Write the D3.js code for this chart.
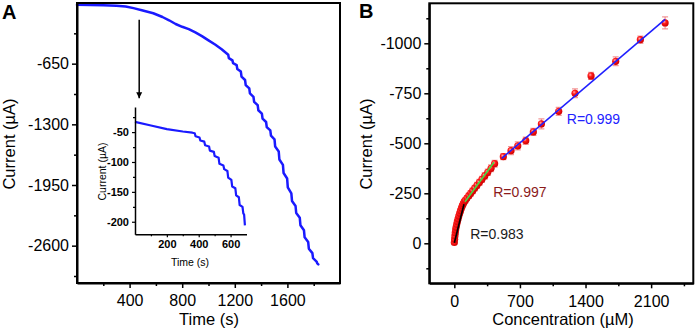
<!DOCTYPE html>
<html lang="en">
<head>
<meta charset="UTF-8" />
<title>Amperometric response and calibration</title>
<script src="https://d3js.org/d3.v7.min.js"></script>
<style>
  body { margin: 0; background: #fff; }
  svg { display: block; font-family: 'Liberation Sans', Arial, sans-serif; }
  .axis path, .axis line { stroke: #000; }
  .axis path { stroke-width: 2; }
  .axis line { stroke-width: 1.5; }
  .axis text { font-size: 16px; fill: #000; }
  .inset .axis path { stroke-width: 1.5; }
  .inset .axis line { stroke-width: 1.2; }
  .inset .axis text { font-size: 11px; font-weight: bold; }
</style>
</head>
<body>
<svg id="chart" width="699" height="333"></svg>
<script>
// ---- Panel A: current vs time (uA vs s)
const traceA = [
  [0,-20],[100,-22],[200,-25],[300,-30],[370,-38],[430,-55],[500,-80],[580,-110],[650,-150],
  [700,-185],[750,-225],[800,-255],[850,-280],[900,-315],[950,-355],[1000,-400],[1050,-445],
  [1100,-495],[1150,-555],[1155,-591],[1182,-615],[1187,-645],[1214,-665],[1219,-707],
  [1246,-735],[1251,-789],[1278,-825],[1283,-879],[1310,-915],[1315,-969],[1342,-1005],
  [1347,-1059],[1374,-1095],[1379,-1149],[1406,-1185],[1411,-1239],[1438,-1275],[1443,-1329],
  [1470,-1365],[1475,-1422],[1502,-1460],[1507,-1538],[1534,-1590],[1539,-1677],[1566,-1735],
  [1571,-1822],[1598,-1880],[1603,-1976],[1630,-2040],[1635,-2121],[1662,-2175],[1667,-2250],
  [1694,-2300],[1699,-2381],[1726,-2435],[1731,-2510],[1758,-2560],[1763,-2632],[1790,-2680],
  [1795,-2734],[1822,-2770],[1827,-2790],[1835,-2800]
];
const xTicksA = [400, 800, 1200, 1600];
const xMinorA = [200, 600, 1000, 1400, 1800];
const yTicksA = [-650, -1300, -1950, -2600];
const yMinorA = [-325, -975, -1625, -2275, -2925];

// inset of panel A (first 700 s)
const traceInset = [
  [0,-33],[100,-39],[200,-45],[300,-49],[360,-51],[375,-52],[380,-57],[405,-59],[410,-64],
  [435,-66],[440,-72],[465,-74],[470,-81],[495,-83],[500,-90],[525,-93],[530,-103],[555,-106],
  [560,-112],[580,-115],[585,-126],[605,-130],[610,-141],[630,-144],[635,-156],[652,-159],
  [657,-172],[675,-175],[680,-186],[685,-188],[690,-206]
];
const xTicksIn = [200, 400, 600];
const xMinorIn = [100, 300, 500];
const yTicksIn = [-50, -100, -150, -200];
const yMinorIn = [-25, -75, -125, -175];
const arrowA = { t: 473, from: -180, to: -1020 };

// ---- Panel B: calibration (uA vs uM)
const conc = [0,3,6,10,14,19,25,32,40,48,57,66,76,86,96,106,
  118,135,155,175,195,218,242,268,295,325,357,392,430,
  523,605,677,762,843,929,1114,1288,1459,1722,1985,2249];
const current = [-4,-20,-36,-52,-66,-80,-94,-108,-122,-136,-150,-163,-176,-188,-198,-208,
  -215,-226,-238,-250,-262,-276,-290,-305,-320,-337,-355,-375,-398,
  -433,-463,-487,-513,-557,-597,-660,-750,-837,-910,-1018,-1102];
const errorBar = [8,8,8,8,9,9,9,10,10,10,10,10,11,11,11,12,
  13,13,13,14,14,14,15,15,15,16,16,17,17,
  15,20,20,18,18,25,20,22,18,22,18,30];
const fits = [
  { label: "R=0.983", color: "#000000", text: "#1a1a1a", pts: [[0,-3],[103,-195]], at: [170, -20] },
  { label: "R=0.997", color: "#44dd44", text: "#8b1a1a", pts: [[114,-208],[424,-405]], at: [415, -230] },
  { label: "R=0.999", color: "#1f1fff", text: "#2222ff", pts: [[506,-425],[2249,-1120]], at: [1200, -595] }
];
const xTicksB = [0, 700, 1400, 2100];
const xMinorB = [350, 1050, 1750, 2450];
const yTicksB = [0, -250, -500, -750, -1000];
const yMinorB = [125, -125, -375, -625, -875, -1125];

const svg = d3.select("#chart");
const fmt = d => String(d);

const defs = svg.append("defs");
const grad = defs.append("radialGradient").attr("id", "ball").attr("cx", "38%").attr("cy", "35%").attr("r", "65%");
grad.append("stop").attr("offset", "0%").attr("stop-color", "#ffb0b0");
grad.append("stop").attr("offset", "40%").attr("stop-color", "#ff1a1a");
grad.append("stop").attr("offset", "100%").attr("stop-color", "#d00000");
defs.append("marker").attr("id", "arrow").attr("viewBox", "0 0 10 10")
  .attr("refX", 10).attr("refY", 5).attr("markerWidth", 4).attr("markerHeight", 5)
  .attr("markerUnits", "strokeWidth").attr("orient", "auto")
  .append("path").attr("d", "M0,0 L10,5 L0,10 Z").attr("fill", "#000");

function drawAxes(g, x, y, o) {
  const [x0, x1] = x.range(), [y0, y1] = y.range();
  g.append("g").attr("class", "axis").attr("transform", `translate(0,${y0})`)
    .call(d3.axisBottom(x).tickValues(o.xt).tickSize(o.major).tickSizeOuter(0).tickPadding(o.xpad).tickFormat(fmt));
  g.append("g").attr("class", "axis").attr("transform", `translate(0,${y0})`)
    .call(d3.axisBottom(x).tickValues(o.xm).tickSize(o.minor).tickFormat(""))
    .select(".domain").remove();
  g.append("g").attr("class", "axis").attr("transform", `translate(${x0},0)`)
    .call(d3.axisLeft(y).tickValues(o.yt).tickSize(o.major).tickSizeOuter(0).tickPadding(o.ypad).tickFormat(fmt));
  g.append("g").attr("class", "axis").attr("transform", `translate(${x0},0)`)
    .call(d3.axisLeft(y).tickValues(o.ym).tickSize(o.minor).tickFormat(""))
    .select(".domain").remove();
  if (o.frame) {
    g.append("rect").attr("x", x0).attr("y", y1).attr("width", x1 - x0).attr("height", y0 - y1)
      .attr("fill", "none").attr("stroke", "#000").attr("stroke-width", 2);
  }
}

// ---------- Panel A
const xA = d3.scaleLinear().domain([0, 2000]).range([77, 340]);
const yA = d3.scaleLinear().domain([-3000, 0]).range([283, 3]);
const gA = svg.append("g");

gA.append("path").datum(traceA)
  .attr("d", d3.line().x(d => xA(d[0])).y(d => yA(d[1])))
  .attr("fill", "none").attr("stroke", "#1a1aff").attr("stroke-width", 2.5)
  .attr("stroke-linejoin", "round").attr("stroke-linecap", "round");

drawAxes(gA, xA, yA, { xt: xTicksA, xm: xMinorA, yt: yTicksA, ym: yMinorA, major: 5, minor: 3, xpad: 7, ypad: 3, frame: true });

gA.append("line")
  .attr("x1", xA(arrowA.t)).attr("x2", xA(arrowA.t))
  .attr("y1", yA(arrowA.from)).attr("y2", yA(arrowA.to))
  .attr("stroke", "#000").attr("stroke-width", 1.5).attr("marker-end", "url(#arrow)");

gA.append("text").attr("x", 209).attr("y", 325).attr("text-anchor", "middle")
  .style("font-size", "16.5px").text("Time (s)");
gA.append("text").attr("transform", "translate(15,144) rotate(-90)").attr("text-anchor", "middle")
  .style("font-size", "16.5px").text("Current (\u00b5A)");
gA.append("text").attr("x", 2).attr("y", 19).style("font-size", "20px").style("font-weight", "bold").text("A");

// inset
const xIn = d3.scaleLinear().domain([0, 700]).range([135, 246.5]);
const yIn = d3.scaleLinear().domain([-221, -8]).range([234.3, 107]);
const gIn = svg.append("g").attr("class", "inset");
gIn.append("path").datum(traceInset)
  .attr("d", d3.line().x(d => xIn(d[0])).y(d => yIn(d[1])))
  .attr("fill", "none").attr("stroke", "#1a1aff").attr("stroke-width", 2.2)
  .attr("stroke-linejoin", "round");
drawAxes(gIn, xIn, yIn, { xt: xTicksIn, xm: xMinorIn, yt: yTicksIn, ym: yMinorIn, major: 3, minor: 2, xpad: 3, ypad: 3, frame: false });
gIn.append("text").attr("x", 190).attr("y", 265.5).attr("text-anchor", "middle")
  .style("font-size", "10.5px").text("Time (s)");
gIn.append("text").attr("transform", "translate(106,171.5) rotate(-90)").attr("text-anchor", "middle")
  .style("font-size", "10.5px").text("Current (\u00b5A)");

// ---------- Panel B
const xB = d3.scaleLinear().domain([-267, 2550]).range([429.3, 693.3]);
const yB = d3.scaleLinear().domain([200, -1200]).range([283.3, 3.3]);
const gB = svg.append("g");
const pts = conc.map((c, i) => ({ c, v: current[i], e: errorBar[i] }));

const eb = gB.append("g").attr("stroke", "#f08080").attr("stroke-width", 1);
pts.forEach(p => {
  eb.append("line").attr("x1", xB(p.c)).attr("x2", xB(p.c)).attr("y1", yB(p.v - p.e)).attr("y2", yB(p.v + p.e));
  eb.append("line").attr("x1", xB(p.c) - 3).attr("x2", xB(p.c) + 3).attr("y1", yB(p.v - p.e)).attr("y2", yB(p.v - p.e));
  eb.append("line").attr("x1", xB(p.c) - 3).attr("x2", xB(p.c) + 3).attr("y1", yB(p.v + p.e)).attr("y2", yB(p.v + p.e));
});

gB.selectAll("circle.pt").data(pts).join("circle").attr("class", "pt")
  .attr("cx", d => xB(d.c)).attr("cy", d => yB(d.v)).attr("r", 3.6)
  .attr("fill", "url(#ball)");

// fit lines drawn over the points
fits.forEach(f => {
  gB.append("path").datum(f.pts)
    .attr("d", d3.line().x(d => xB(d[0])).y(d => yB(d[1])))
    .attr("stroke", f.color).attr("stroke-width", 1.6).attr("fill", "none");
  gB.append("text").attr("x", xB(f.at[0])).attr("y", yB(f.at[1]))
    .style("font-size", "14px").attr("fill", f.text).text(f.label);
});

drawAxes(gB, xB, yB, { xt: xTicksB, xm: xMinorB, yt: yTicksB, ym: yMinorB, major: 5, minor: 3, xpad: 7, ypad: 3, frame: true });

gB.append("text").attr("x", 563).attr("y", 325).attr("text-anchor", "middle")
  .style("font-size", "16.5px").text("Concentration (\u00b5M)");
gB.append("text").attr("transform", "translate(372,144) rotate(-90)").attr("text-anchor", "middle")
  .style("font-size", "16.5px").text("Current (\u00b5A)");
gB.append("text").attr("x", 359).attr("y", 18).style("font-size", "20px").style("font-weight", "bold").text("B");
</script>
</body>
</html>
